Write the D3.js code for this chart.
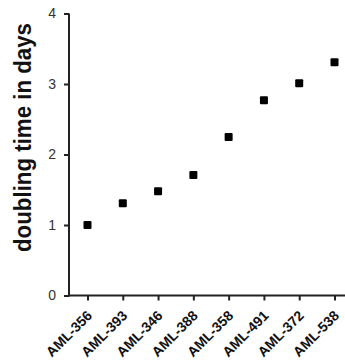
<!DOCTYPE html>
<html>
<head>
<meta charset="utf-8">
<script src="https://cdn.jsdelivr.net/npm/d3@7"></script>
<style>
  body { margin: 0; background: #fff; }
  svg { display: block; font-family: "Liberation Sans", Arial, sans-serif; }
</style>
</head>
<body>
<svg width="345" height="364"></svg>
<script>
// cell lines, in plotted order
const lines = ["AML-356", "AML-393", "AML-346", "AML-388", "AML-358", "AML-491", "AML-372", "AML-538"];
// doubling time (days)
const doubling = [1.00, 1.31, 1.48, 1.71, 2.25, 2.77, 3.01, 3.31];
const yTicks = [0, 1, 2, 3, 4];

(function () {
const svg = d3.select("svg");
const left = 69, right = 345, topY = 13.5, bottom = 295.5;

let x = d3.scalePoint()
  .domain(lines)
  .range([87.5, 334.5]);

let y = d3.scaleLinear()
  .domain([0, 4])
  .range([bottom, topY]);

// y axis
let yAxis = svg.append("g")
  .attr("transform", "translate(" + left + ",0)")
  .call(d3.axisLeft(y).tickValues(yTicks).tickFormat(d3.format("d"))
    .tickSize(5).tickPadding(8).tickSizeOuter(0));
yAxis.select(".domain").remove();
yAxis.append("line")
  .attr("y1", topY).attr("y2", bottom + 1)
  .attr("stroke", "#222").attr("stroke-width", 2);
yAxis.selectAll(".tick line").attr("stroke", "#222").attr("stroke-width", 2);
yAxis.selectAll(".tick text")
  .style("font-size", "14px")
  .attr("fill", "#333");

// x axis
let xAxis = svg.append("g")
  .attr("transform", "translate(0," + bottom + ")")
  .call(d3.axisBottom(x).tickSize(5).tickSizeOuter(0));
xAxis.select(".domain").remove();
xAxis.append("line")
  .attr("x1", left - 1).attr("x2", right)
  .attr("stroke", "#222").attr("stroke-width", 2);
xAxis.selectAll(".tick line").attr("stroke", "#222").attr("stroke-width", 2);
xAxis.selectAll(".tick text")
  .style("font-size", "14px")
  .style("font-weight", "bold")
  .attr("fill", "#111")
  .attr("text-anchor", "end")
  .attr("x", 0).attr("y", 0).attr("dy", "0")
  .attr("transform", "translate(5,21) rotate(-45)");

// axis title
svg.append("text")
  .attr("transform", "translate(31,137.5) rotate(-90)")
  .attr("text-anchor", "middle")
  .attr("textLength", 229)
  .attr("lengthAdjust", "spacingAndGlyphs")
  .style("font-size", "23px")
  .style("font-weight", "bold")
  .attr("fill", "#111")
  .text("doubling time in days");

// points
svg.append("g")
  .selectAll("rect")
  .data(doubling)
  .enter()
  .append("rect")
  .attr("x", (d, i) => x(lines[i]) - 4)
  .attr("y", d => y(d) - 4)
  .attr("width", 8)
  .attr("height", 8)
  .attr("rx", 1)
  .attr("fill", "#000");
})();
</script>
</body>
</html>
